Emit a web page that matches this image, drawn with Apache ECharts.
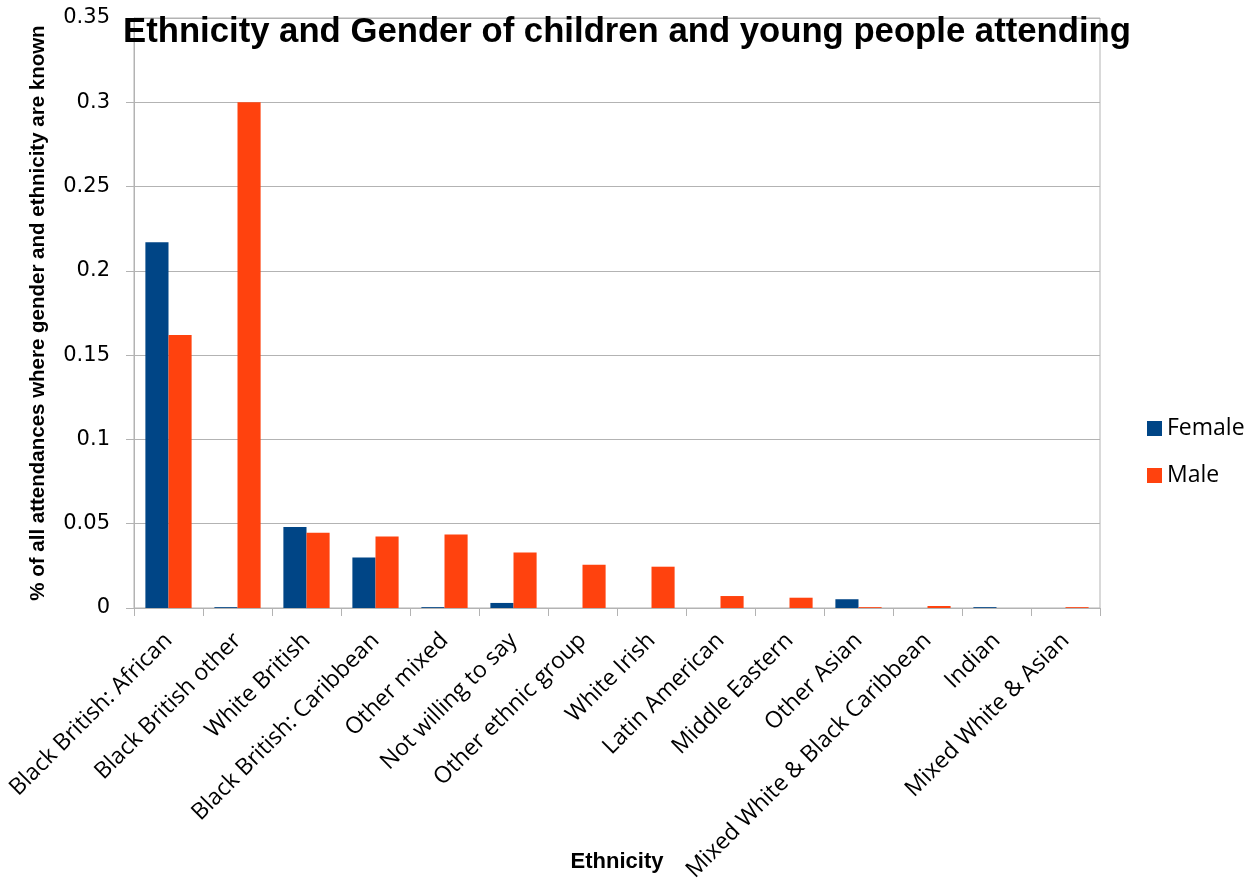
<!DOCTYPE html>
<html><head><meta charset="utf-8">
<script src="https://cdn.jsdelivr.net/npm/echarts@6/dist/echarts.min.js"></script>
<style>html,body{margin:0;padding:0;background:#fff}#c{width:1251px;height:885px}</style>
</head><body><div id="c"></div>
<script>
const categories = ["Black British: African","Black British other","White British","Black British: Caribbean","Other mixed","Not willing to say","Other ethnic group","White Irish","Latin American","Middle Eastern","Other Asian","Mixed White & Black Caribbean","Indian","Mixed White & Asian"];
const female = [0.217, 0.0005, 0.048, 0.030, 0.0005, 0.003, 0, 0, 0, 0, 0.0052, 0, 0.0005, 0];
const male   = [0.162, 0.300, 0.0446, 0.0424, 0.0436, 0.0329, 0.0256, 0.0245, 0.0071, 0.0061, 0.0005, 0.0012, 0, 0.0005];
const yTicks = [0, 0.05, 0.1, 0.15, 0.2, 0.25, 0.3, 0.35];

const chart = echarts.init(document.getElementById('c'), null, {renderer:'canvas'});
chart.setOption({
  animation:false,
  backgroundColor:'#ffffff',
  title:{text:'Ethnicity and Gender of children and young people attending', left:118, top:10,
    textStyle:{fontFamily:'Liberation Sans', fontWeight:'bold', fontSize:34.7, color:'#000'}},
  legend:{orient:'vertical', left:1142, top:412, itemWidth:15, itemHeight:15, itemGap:24, icon:'rect',
    textStyle:{fontFamily:'Open Sans', fontSize:23, color:'#000', padding:[0,0,0,0]}, data:['Female','Male']},
  grid:{left:134, right:151, top:18, bottom:277, show:true, borderColor:'#b3b3b3', borderWidth:1,
    containLabel:false, outerBoundsMode:'none'},
  xAxis:{type:'category', data:categories,
    name:'Ethnicity', nameLocation:'middle', nameGap:243, nameMoveOverlap:false,
    nameTextStyle:{fontFamily:'Liberation Sans', fontWeight:'bold', fontSize:22, color:'#000'},
    axisLine:{lineStyle:{color:'#b3b3b3'}},
    axisTick:{show:true, length:8, lineStyle:{color:'#b3b3b3'}},
    axisLabel:{rotate:45, interval:0, margin:29, fontFamily:'Open Sans', fontSize:23, color:'#000'}},
  yAxis:{type:'value', min:0, max:0.35, interval:0.05,
    name:'% of all attendances where gender and ethnicity are known', nameLocation:'middle', nameGap:85, nameMoveOverlap:false,
    nameTextStyle:{fontFamily:'Liberation Sans', fontWeight:'bold', fontSize:20.5, color:'#000'},
    axisLine:{show:true, lineStyle:{color:'#b3b3b3'}},
    axisTick:{show:true, length:8, lineStyle:{color:'#b3b3b3'}},
    splitLine:{lineStyle:{color:'#b3b3b3'}},
    axisLabel:{margin:24, fontFamily:'DejaVu Sans', fontSize:21, color:'#000',
      formatter:v=>String(+v.toFixed(2))}},
  series:[
    {name:'Female', type:'bar', data:female, barGap:'0%', barCategoryGap:'33%', itemStyle:{color:'#004586'}},
    {name:'Male', type:'bar', data:male, barGap:'0%', barCategoryGap:'33%', itemStyle:{color:'#ff420e'}}
  ]
});
</script></body></html>
